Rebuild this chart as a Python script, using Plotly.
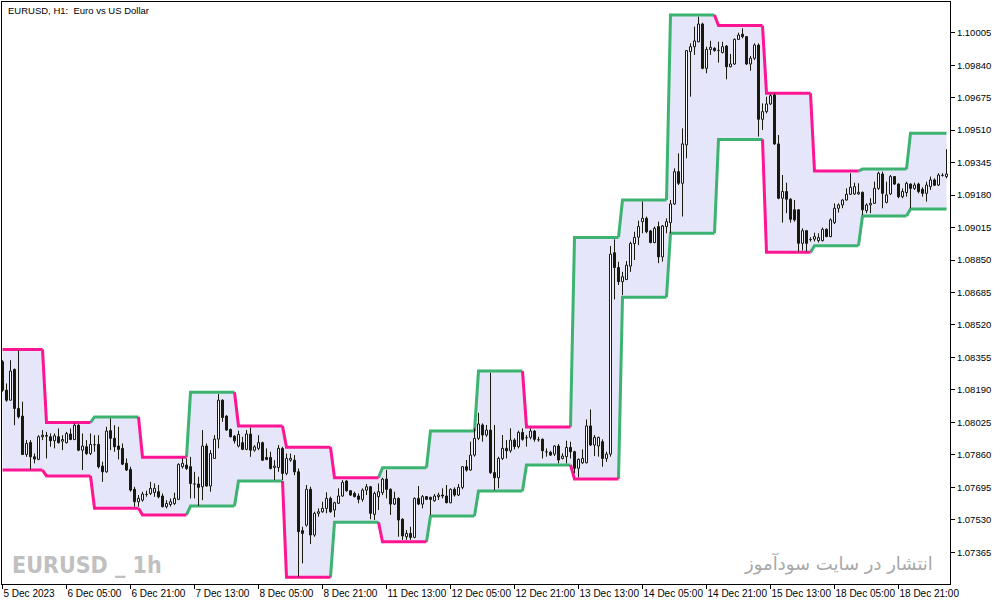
import plotly.graph_objects as go

# ---------------- data (EURUSD H1) ----------------
opens = [
    1.08333, 1.08189, 1.08138, 1.08294, 1.08096, 1.08057, 1.07862, 1.07923, 1.07850, 1.07837,
    1.07952, 1.07955, 1.07952, 1.07932, 1.07952, 1.07930, 1.07922, 1.07966, 1.07938, 1.08011,
    1.07884, 1.07901, 1.07867, 1.07913, 1.07913, 1.07803, 1.07774, 1.07983, 1.07944, 1.07905,
    1.07893, 1.07817, 1.07786, 1.07685, 1.07622, 1.07630, 1.07659, 1.07664, 1.07669, 1.07673,
    1.07651, 1.07597, 1.07608, 1.07613, 1.07634, 1.07800, 1.07808, 1.07800, 1.07712, 1.07712,
    1.07698, 1.07905, 1.07702, 1.07842, 1.07940, 1.08138, 1.08057, 1.07989, 1.07955, 1.07905,
    1.07922, 1.07888, 1.07966, 1.07884, 1.07893, 1.07922, 1.07847, 1.07847, 1.07796, 1.07796,
    1.07893, 1.07766, 1.07833, 1.07833, 1.07774, 1.07475, 1.07503, 1.07685, 1.07453, 1.07563,
    1.07571, 1.07588, 1.07639, 1.07580, 1.07614, 1.07651, 1.07727, 1.07678, 1.07664, 1.07651,
    1.07634, 1.07681, 1.07698, 1.07558, 1.07648, 1.07668, 1.07737, 1.07685, 1.07610, 1.07639,
    1.07533, 1.07444, 1.07461, 1.07441, 1.07639, 1.07610, 1.07648, 1.07644, 1.07627, 1.07648,
    1.07656, 1.07651, 1.07617, 1.07685, 1.07656, 1.07695, 1.07800, 1.07783, 1.07859, 1.07944,
    1.08012, 1.07961, 1.07986, 1.07770, 1.07744, 1.07842, 1.07893, 1.07881, 1.07935, 1.07902,
    1.07974, 1.07949, 1.07949, 1.07981, 1.07939, 1.07939, 1.07876, 1.07873, 1.07864, 1.07905,
    1.07842, 1.07851, 1.07898, 1.07876, 1.07792, 1.07820, 1.07820, 1.08007, 1.07910, 1.07905,
    1.07927, 1.07842, 1.07864, 1.08887, 1.08812, 1.08740, 1.08751, 1.08819, 1.08934, 1.08966,
    1.09045, 1.09062, 1.08998, 1.08939, 1.09020, 1.08866, 1.09020, 1.09040, 1.09135, 1.09299,
    1.09240, 1.09435, 1.09909, 1.09934, 1.09959, 1.10049, 1.09824, 1.09920, 1.09926, 1.09917,
    1.09904, 1.09937, 1.09832, 1.09846, 1.09971, 1.09997, 1.09985, 1.09846, 1.09875, 1.09942,
    1.09565, 1.09604, 1.09643, 1.09688, 1.09440, 1.09164, 1.09198, 1.09159, 1.09105, 1.09105,
    1.08935, 1.08999, 1.08956, 1.08956, 1.08949, 1.08949, 1.09006, 1.08969, 1.09040, 1.09113,
    1.09130, 1.09155, 1.09184, 1.09186, 1.09186, 1.09194, 1.09101, 1.09130, 1.09138, 1.09214,
    1.09287, 1.09143, 1.09186, 1.09274, 1.09236, 1.09172, 1.09193, 1.09236, 1.09214, 1.09236,
    1.09209, 1.09189, 1.09223, 1.09257, 1.09231, 1.09282, 1.09274,
]
highs = [
    1.08341, 1.08223, 1.08341, 1.08299, 1.08392, 1.08130, 1.07935, 1.07935, 1.07867, 1.07960,
    1.07986, 1.07977, 1.07969, 1.07969, 1.07994, 1.07960, 1.07977, 1.07994, 1.08020, 1.08016,
    1.07969, 1.07935, 1.07969, 1.07960, 1.07960, 1.07825, 1.08003, 1.08045, 1.08011, 1.08003,
    1.07918, 1.07842, 1.07800, 1.07698, 1.07656, 1.07673, 1.07678, 1.07723, 1.07715, 1.07707,
    1.07664, 1.07630, 1.07639, 1.07668, 1.07817, 1.07842, 1.07842, 1.07850, 1.07774, 1.07749,
    1.07986, 1.07918, 1.07884, 1.07960, 1.08169, 1.08142, 1.08062, 1.07994, 1.07960, 1.07983,
    1.07952, 1.07986, 1.07999, 1.07910, 1.07960, 1.07927, 1.07893, 1.07876, 1.07833, 1.07910,
    1.07901, 1.07867, 1.07867, 1.07859, 1.07791, 1.07495, 1.07707, 1.07698, 1.07571, 1.07588,
    1.07622, 1.07670, 1.07648, 1.07622, 1.07690, 1.07732, 1.07732, 1.07681, 1.07673, 1.07664,
    1.07690, 1.07712, 1.07702, 1.07673, 1.07715, 1.07744, 1.07783, 1.07690, 1.07673, 1.07644,
    1.07538, 1.07478, 1.07495, 1.07644, 1.07702, 1.07656, 1.07651, 1.07648, 1.07661, 1.07668,
    1.07690, 1.07707, 1.07690, 1.07695, 1.07712, 1.07803, 1.07834, 1.07927, 1.07995, 1.08074,
    1.08020, 1.08012, 1.08277, 1.08012, 1.07851, 1.07961, 1.07935, 1.07995, 1.07944, 1.07983,
    1.07995, 1.07961, 1.07995, 1.07986, 1.07952, 1.07944, 1.07893, 1.07881, 1.07910, 1.07915,
    1.07868, 1.07932, 1.07927, 1.07881, 1.07842, 1.07888, 1.08040, 1.08091, 1.07961, 1.07952,
    1.07939, 1.07876, 1.08921, 1.08955, 1.08841, 1.08790, 1.08845, 1.08943, 1.08994, 1.09050,
    1.09147, 1.09071, 1.09003, 1.09020, 1.09045, 1.09028, 1.09062, 1.09155, 1.09316, 1.09392,
    1.09519, 1.09917, 1.09951, 1.10036, 1.10086, 1.10056, 1.09934, 1.09964, 1.09931, 1.09959,
    1.09959, 1.09942, 1.09897, 1.09976, 1.10005, 1.10027, 1.09988, 1.09887, 1.09951, 1.09951,
    1.09646, 1.09680, 1.09692, 1.09697, 1.09485, 1.09282, 1.09243, 1.09164, 1.09155, 1.09108,
    1.09011, 1.09003, 1.08966, 1.08989, 1.08986, 1.09015, 1.09011, 1.09062, 1.09138, 1.09138,
    1.09159, 1.09214, 1.09291, 1.09243, 1.09240, 1.09198, 1.09138, 1.09164, 1.09248, 1.09299,
    1.09299, 1.09248, 1.09282, 1.09277, 1.09240, 1.09214, 1.09248, 1.09240, 1.09243, 1.09243,
    1.09220, 1.09248, 1.09274, 1.09265, 1.09291, 1.09291, 1.09413,
]
lows = [
    1.08181, 1.08130, 1.08135, 1.08011, 1.08045, 1.07859, 1.07850, 1.07786, 1.07817, 1.07833,
    1.07935, 1.07842, 1.07901, 1.07893, 1.07918, 1.07884, 1.07918, 1.07935, 1.07935, 1.07879,
    1.07783, 1.07859, 1.07859, 1.07876, 1.07791, 1.07723, 1.07769, 1.07884, 1.07876, 1.07837,
    1.07808, 1.07778, 1.07673, 1.07597, 1.07597, 1.07622, 1.07647, 1.07656, 1.07647, 1.07639,
    1.07593, 1.07588, 1.07597, 1.07605, 1.07630, 1.07791, 1.07783, 1.07639, 1.07639, 1.07600,
    1.07630, 1.07698, 1.07673, 1.07839, 1.07893, 1.08028, 1.07983, 1.07949, 1.07918, 1.07898,
    1.07884, 1.07884, 1.07850, 1.07876, 1.07884, 1.07830, 1.07833, 1.07786, 1.07732, 1.07774,
    1.07732, 1.07757, 1.07825, 1.07757, 1.07241, 1.07309, 1.07495, 1.07407, 1.07444, 1.07546,
    1.07566, 1.07563, 1.07566, 1.07543, 1.07610, 1.07648, 1.07673, 1.07651, 1.07644, 1.07614,
    1.07622, 1.07656, 1.07533, 1.07529, 1.07580, 1.07656, 1.07639, 1.07555, 1.07605, 1.07444,
    1.07428, 1.07428, 1.07428, 1.07436, 1.07605, 1.07588, 1.07631, 1.07555, 1.07622, 1.07631,
    1.07639, 1.07614, 1.07614, 1.07648, 1.07651, 1.07685, 1.07775, 1.07780, 1.07851, 1.07935,
    1.07927, 1.07952, 1.07763, 1.07681, 1.07690, 1.07834, 1.07842, 1.07871, 1.07888, 1.07893,
    1.07932, 1.07902, 1.07939, 1.07927, 1.07927, 1.07842, 1.07851, 1.07854, 1.07854, 1.07817,
    1.07837, 1.07817, 1.07842, 1.07766, 1.07746, 1.07814, 1.07817, 1.07905, 1.07854, 1.07851,
    1.07800, 1.07825, 1.07851, 1.08650, 1.08723, 1.08672, 1.08748, 1.08790, 1.08850, 1.08926,
    1.08986, 1.08986, 1.08935, 1.08935, 1.08834, 1.08842, 1.08986, 1.08986, 1.09130, 1.09231,
    1.09071, 1.09367, 1.09680, 1.09892, 1.09956, 1.09819, 1.09799, 1.09892, 1.09909, 1.09853,
    1.09900, 1.09768, 1.09829, 1.09841, 1.09968, 1.09976, 1.09841, 1.09812, 1.09866, 1.09477,
    1.09511, 1.09595, 1.09638, 1.09435, 1.09159, 1.09040, 1.09088, 1.09040, 1.09045, 1.08893,
    1.08898, 1.08893, 1.08944, 1.08944, 1.08939, 1.08944, 1.08966, 1.08966, 1.09033, 1.09091,
    1.09113, 1.09152, 1.09181, 1.09181, 1.09181, 1.09079, 1.09088, 1.09088, 1.09135, 1.09206,
    1.09113, 1.09138, 1.09181, 1.09231, 1.09164, 1.09164, 1.09172, 1.09113, 1.09206, 1.09189,
    1.09172, 1.09147, 1.09206, 1.09226, 1.09226, 1.09274, 1.09265,
]
closes = [
    1.08189, 1.08138, 1.08286, 1.08096, 1.08054, 1.07862, 1.07918, 1.07850, 1.07839, 1.07952,
    1.07960, 1.07959, 1.07932, 1.07957, 1.07922, 1.07938, 1.07969, 1.07938, 1.08011, 1.07884,
    1.07905, 1.07867, 1.07913, 1.07912, 1.07800, 1.07774, 1.07981, 1.07944, 1.07901, 1.07888,
    1.07813, 1.07783, 1.07681, 1.07622, 1.07639, 1.07661, 1.07661, 1.07690, 1.07690, 1.07647,
    1.07597, 1.07613, 1.07622, 1.07639, 1.07812, 1.07817, 1.07791, 1.07715, 1.07715, 1.07695,
    1.07905, 1.07702, 1.07867, 1.07940, 1.08138, 1.08050, 1.07986, 1.07952, 1.07932, 1.07964,
    1.07888, 1.07966, 1.07884, 1.07901, 1.07922, 1.07833, 1.07837, 1.07791, 1.07803, 1.07893,
    1.07766, 1.07842, 1.07842, 1.07774, 1.07470, 1.07461, 1.07685, 1.07453, 1.07563, 1.07571,
    1.07588, 1.07639, 1.07571, 1.07617, 1.07651, 1.07720, 1.07678, 1.07656, 1.07648, 1.07634,
    1.07681, 1.07698, 1.07563, 1.07664, 1.07673, 1.07737, 1.07685, 1.07610, 1.07639, 1.07529,
    1.07448, 1.07461, 1.07441, 1.07639, 1.07610, 1.07648, 1.07634, 1.07634, 1.07651, 1.07656,
    1.07651, 1.07617, 1.07685, 1.07656, 1.07695, 1.07800, 1.07783, 1.07859, 1.07944, 1.08017,
    1.07961, 1.07986, 1.07770, 1.07744, 1.07842, 1.07893, 1.07881, 1.07935, 1.07902, 1.07974,
    1.07939, 1.07947, 1.07981, 1.07939, 1.07937, 1.07881, 1.07875, 1.07859, 1.07905, 1.07834,
    1.07854, 1.07898, 1.07876, 1.07792, 1.07837, 1.07842, 1.08007, 1.07910, 1.07949, 1.07949,
    1.07842, 1.07864, 1.08880, 1.08812, 1.08740, 1.08765, 1.08824, 1.08934, 1.08965, 1.09020,
    1.09062, 1.08994, 1.08939, 1.09011, 1.08866, 1.09023, 1.09045, 1.09135, 1.09299, 1.09240,
    1.09440, 1.09914, 1.09934, 1.09963, 1.10049, 1.09824, 1.09920, 1.09931, 1.09914, 1.09915,
    1.09934, 1.09832, 1.09846, 1.09971, 1.09993, 1.09985, 1.09846, 1.09875, 1.09942, 1.09565,
    1.09604, 1.09643, 1.09685, 1.09440, 1.09164, 1.09198, 1.09159, 1.09057, 1.09054, 1.08935,
    1.08999, 1.08935, 1.08954, 1.08969, 1.08964, 1.09006, 1.08969, 1.09054, 1.09113, 1.09130,
    1.09155, 1.09184, 1.09220, 1.09223, 1.09194, 1.09105, 1.09130, 1.09138, 1.09214, 1.09291,
    1.09189, 1.09181, 1.09274, 1.09236, 1.09172, 1.09198, 1.09240, 1.09214, 1.09231, 1.09198,
    1.09189, 1.09231, 1.09257, 1.09230, 1.09282, 1.09280, 1.09287,
]

# channel levels (each level holds from its start bar until the next start bar)
band_starts = [0, 11, 23, 35, 47, 59, 71, 83, 95, 107, 119, 131, 143, 155, 167, 179, 191, 203, 215, 227]
upper_levels = [1.08396, 1.08024, 1.08053, 1.07848, 1.08178, 1.08007, 1.07899, 1.07744, 1.07795, 1.07981,
                1.08286, 1.08002, 1.08965, 1.09155, 1.10095, 1.10041, 1.09697, 1.09302, 1.09312, 1.09494]
lower_levels = [1.07783, 1.07753, 1.07589, 1.07555, 1.07600, 1.07727, 1.07238, 1.07518, 1.07419, 1.07550,
                1.07677, 1.07809, 1.07738, 1.08661, 1.08986, 1.09463, 1.08889, 1.08923, 1.09074, 1.09109]

price_ticks = [1.07365, 1.07530, 1.07695, 1.07860, 1.08025, 1.08190, 1.08355, 1.08520, 1.08685,
               1.08850, 1.09015, 1.09180, 1.09345, 1.09510, 1.09675, 1.09840, 1.10005]
price_tick_labels = ["1.07365", "1.07530", "1.07695", "1.07860", "1.08025", "1.08190", "1.08355",
                     "1.08520", "1.08685", "1.08850", "1.09015", "1.09180", "1.09345", "1.09510",
                     "1.09675", "1.09840", "1.10005"]
time_tick_bars = [0, 16, 32, 48, 64, 80, 96, 112, 128, 144, 160, 176, 192, 208, 224]
time_tick_labels = ["5 Dec 2023", "6 Dec 05:00", "6 Dec 21:00", "7 Dec 13:00", "8 Dec 05:00",
                    "8 Dec 21:00", "11 Dec 13:00", "12 Dec 05:00", "12 Dec 21:00", "13 Dec 13:00",
                    "14 Dec 05:00", "14 Dec 21:00", "15 Dec 13:00", "18 Dec 05:00", "18 Dec 21:00"]

# ---------------- styles ----------------
CANDLE = "#1a1a0c"
GREEN = "#3cb371"
PINK = "#ff1493"
FILL = "#e6e6fa"
BODY_HALF = 0.25          # half body width in bar units (style)
MIN_BODY = 0.000006       # minimal visible body for doji (style)

n = len(opens)
bars = list(range(n))
band_ends = [s - 1 for s in band_starts[1:]] + [n - 1]

fig = go.Figure()

# channel fill polygon
ux, uy, lx, ly = [], [], [], []
for s, e, u, l in zip(band_starts, band_ends, upper_levels, lower_levels):
    ux += [s, e]; uy += [u, u]
    lx += [s, e]; ly += [l, l]
fig.add_trace(go.Scatter(x=ux + lx[::-1], y=uy + ly[::-1], fill="toself", fillcolor=FILL,
                         mode="lines", line=dict(width=0), hoverinfo="skip"))

# coloured channel lines
def band_segments(levels):
    segs = {GREEN: ([], []), PINK: ([], [])}
    for k, (s, e, v) in enumerate(zip(band_starts, band_ends, levels)):
        if k == 0:
            col = PINK
            xs, ys = [s, e], [v, v]
        else:
            col = GREEN if v > levels[k - 1] else PINK
            xs, ys = [band_ends[k - 1], s, e], [levels[k - 1], v, v]
        segs[col][0].extend(xs + [None])
        segs[col][1].extend(ys + [None])
    return segs

for levels in (upper_levels, lower_levels):
    for col, (xs, ys) in band_segments(levels).items():
        fig.add_trace(go.Scatter(x=xs, y=ys, mode="lines", line=dict(color=col, width=3),
                                 hoverinfo="skip"))

# wicks
wx, wy = [], []
for i, h, l in zip(bars, highs, lows):
    wx += [i, i, None]; wy += [l, h, None]
fig.add_trace(go.Scatter(x=wx, y=wy, mode="lines", line=dict(color=CANDLE, width=1), hoverinfo="skip"))

# bodies (closed rectangles per candle, filled)
for bull in (True, False):
    bx, by = [], []
    for i in bars:
        o, c = opens[i], closes[i]
        if (c >= o) != bull:
            continue
        lo, hi = min(o, c), max(o, c)
        if hi - lo < MIN_BODY:
            hi = lo + MIN_BODY
        bx += [i - BODY_HALF, i + BODY_HALF, i + BODY_HALF, i - BODY_HALF, i - BODY_HALF, None]
        by += [lo, lo, hi, hi, lo, None]
    fig.add_trace(go.Scatter(x=bx, y=by, mode="lines", fill="toself",
                             fillcolor="white" if bull else CANDLE,
                             line=dict(color=CANDLE, width=1), hoverinfo="skip"))

fig.update_layout(
    width=1003, height=605,
    margin=dict(l=2, r=53, t=2, b=21, autoexpand=False),
    paper_bgcolor="white", plot_bgcolor="white",
    showlegend=False,
    font=dict(family="Liberation Sans, Arial, sans-serif", size=10, color="black"),
)
fig.update_xaxes(
    range=[-0.125, 236.875], showgrid=False, zeroline=False, automargin=False,
    showline=True, linecolor="black", linewidth=1, mirror=True,
    ticks="outside", ticklen=4, tickcolor="black", tickangle=0,
    tickvals=time_tick_bars, ticktext=time_tick_labels,
    ticklabelposition="outside right", tickfont=dict(size=10),
)
fig.update_yaxes(
    range=[1.07204, 1.10161], side="right", showgrid=False, zeroline=False, automargin=False,
    showline=True, linecolor="black", linewidth=1, mirror=True,
    ticks="outside", ticklen=4, tickcolor="black",
    tickvals=price_ticks, ticktext=price_tick_labels,
    tickfont=dict(size=9.5),
)

fig.add_annotation(text="EURUSD, H1:  Euro vs US Dollar", xref="paper", yref="paper",
                   x=0.004, y=0.985, xanchor="left", yanchor="middle", showarrow=False,
                   font=dict(size=9.5, color="black"))
fig.add_annotation(text="<b>EURUSD _ 1h</b>", xref="paper", yref="paper",
                   x=0.008, y=0.033, xanchor="left", yanchor="middle", showarrow=False,
                   font=dict(family="Liberation Sans Narrow, Arial Narrow, DejaVu Sans Condensed, sans-serif",
                             size=23, color="#c0c0c0"))
fig.add_annotation(text="انتشار در سایت سودآموز", xref="paper", yref="paper",
                   x=0.984, y=0.036, xanchor="right", yanchor="middle", showarrow=False,
                   font=dict(family="DejaVu Sans, Noto Sans, sans-serif", size=18, color="#a8a8a8"))

fig.write_html("out.html", config={"displayModeBar": False},
               post_script="document.body.style.margin='0';document.body.style.overflow='hidden';")
